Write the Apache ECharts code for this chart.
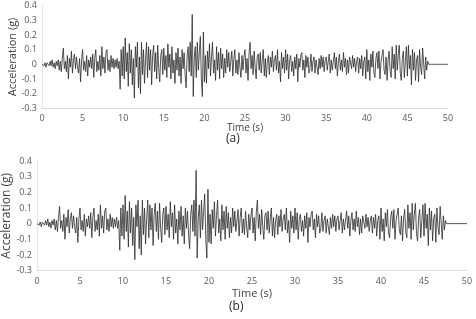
<!DOCTYPE html>
<html>
<head>
<meta charset="utf-8">
<script src="https://cdn.jsdelivr.net/npm/echarts@6/dist/echarts.min.js"></script>
<style>
  html, body { margin: 0; padding: 0; background: #fff; }
  #chart { width: 476px; height: 319px; }
</style>
</head>
<body>
<div id="chart"></div>
<script>
// sampling step of the record (s)
const dt = 0.125

// acceleration (g), one row per second
const accA = [
  0, .01, -.01, .01, -.02, .01, 0, -.01,
  .02, -.01, .03, -.02, .01, -.03, .02, -.01,
  .03, -.04, .02, -.05, .04, .11, -.03, .02,
  -.05, .06, -.10, .04, -.02, .09, -.06, .03,
  .07, -.03, .05, -.02, -.06, .04, -.12, .03,
  .10, -.04, .02, -.05, .06, -.08, .03, -.02,
  .05, -.03, .07, -.09, .04, .10, -.05, .02,
  -.04, .06, -.08, .12, -.03, .05, -.06, .08,
  .10, -.04, .03, -.05, .06, -.02, .04, -.03,
  .03, -.02, .04, -.03, .02, -.17, .10, -.08,
  .12, -.10, .18, -.05, .08, -.15, .14, -.06,
  .10, -.14, .04, -.23, .12, -.02, .15, -.16,
  .05, -.20, .15, -.07, .10, -.13, .03, .15,
  -.09, .12, -.04, .10, -.14, .06, .13, -.05,
  .08, -.10, .13, -.03, -.12, .06, .10, -.07,
  .11, -.04, .06, -.09, .14, -.02, .07, -.10,
  .12, -.06, .03, -.13, .08, -.04, .11, -.08,
  .05, -.13, .10, -.03, .08, -.07, -.16, .06,
  .12, -.05, .15, -.08, .34, -.22, .04, .12,
  -.09, .15, -.04, .08, .19, -.10, -.22, .22,
  -.12, .06, -.13, .09, -.03, .14, -.08, .05,
  .15, -.06, .03, -.11, .12, -.04, .08, -.10,
  .11, -.03, .07, -.09, .04, -.06, .10, -.02,
  .08, -.05, .02, .09, -.08, .04, .10, -.06,
  .03, -.07, .08, -.02, -.09, .06, -.04, .05,
  .10, -.06, .04, -.11, .07, .15, -.03, .06,
  -.07, .09, -.02, -.10, .05, .07, -.04, .08,
  -.06, .03, .10, -.08, .04, -.09, .02, .06,
  -.07, .05, -.02, .09, -.05, .03, .06, -.04,
  .10, -.06, .02, -.12, .08, -.03, .05, -.06,
  .10, -.04, .07, -.10, .03, .06, -.05, .02,
  -.08, .05, -.03, .07, -.12, .04, -.02, .06,
  .08, -.04, .03, -.09, .06, -.02, .05, -.06,
  -.03, .07, -.05, .02, .05, -.06, .03, -.02,
  -.07, .04, -.03, .06, -.02, .05, -.05, .03,
  .05, -.04, .02, .07, -.06, .03, -.04, .02,
  .08, -.03, .05, -.08, .02, .07, -.04, .03,
  -.05, .08, -.02, .04, -.07, .03, -.06, .05,
  .05, -.03, .06, -.02, .04, -.05, .02, .05,
  -.06, .04, -.03, .06, -.08, .02, .05, -.10,
  .10, -.05, .03, -.11, .07, -.02, .09, -.06,
  -.09, .04, .08, -.03, .09, -.10, .02, .06,
  .10, -.04, -.07, .05, -.11, .03, .09, -.05,
  -.09, .12, -.03, .07, -.10, .13, -.04, .06,
  .13, -.06, -.11, .04, .09, -.09, .02, .12,
  -.08, .13, -.03, .06, -.14, .10, -.04, .08,
  -.11, .03, .06, -.12, .10, -.02, -.07, .11,
  .12, -.10, .05, -.04, .02, 0
]
// record (b) traces the same motion
const accB = accA.slice()

// flat tail after the motion ends
const tailTimes = [48, 50]

const xTicks = [0, 5, 10, 15, 20, 25, 30, 35, 40, 45, 50]
const yTicks = [-0.3, -0.2, -0.1, 0, 0.1, 0.2, 0.3, 0.4]
const panelLabels = ['(a)', '(b)']

function toPairs(list) {
  const pairs = list.map((v, i) => [i * dt, v])
  tailTimes.forEach(t => pairs.push([t, 0]))
  return pairs
}

const font = '"Open Sans", "Liberation Sans", sans-serif'

function xAxisOf(idx, gap, nameSize) {
  return {
    type: 'value',
    gridIndex: idx,
    min: xTicks[0],
    max: xTicks[xTicks.length - 1],
    interval: 5,
    name: 'Time (s)',
    nameLocation: 'middle',
    nameGap: gap,
    nameMoveOverlap: false,
    nameTextStyle: { color: '#404040', fontSize: nameSize, fontFamily: font },
    axisLine: { onZero: false, lineStyle: { color: '#d9d9d9', width: 1 } },
    axisTick: { show: false },
    splitLine: { show: false },
    axisLabel: { color: '#595959', fontSize: 9, fontFamily: font, margin: 6 }
  }
}

function yAxisOf(idx, gap, nameSize) {
  return {
    type: 'value',
    gridIndex: idx,
    min: yTicks[0],
    max: yTicks[yTicks.length - 1],
    interval: 0.1,
    name: 'Acceleration (g)',
    nameLocation: 'middle',
    nameGap: gap,
    nameRotate: 90,
    nameMoveOverlap: false,
    nameTextStyle: { color: '#404040', fontSize: nameSize, fontFamily: font },
    axisLine: { show: true, lineStyle: { color: '#e6e6e6', width: 1 } },
    axisTick: { show: false },
    splitLine: { show: false },
    axisLabel: {
      color: '#595959', fontSize: 9, fontFamily: font, margin: 5,
      formatter: v => String(+v.toFixed(1))
    }
  }
}

function seriesOf(idx, list) {
  return {
    type: 'line',
    xAxisIndex: idx,
    yAxisIndex: idx,
    data: toPairs(list),
    showSymbol: false,
    animation: false,
    lineStyle: { color: '#2b2b2b', width: 0.8 }
  }
}

const chart = echarts.init(document.getElementById('chart'))
chart.setOption({
  animation: false,
  grid: [
    { left: 42, right: 28, top: 5.6, height: 102.7, outerBoundsMode: 'none' },
    { left: 37, right: 9, top: 161, height: 109.6, outerBoundsMode: 'none' }
  ],
  xAxis: [xAxisOf(0, 15, 10), xAxisOf(1, 18, 11)],
  yAxis: [yAxisOf(0, 24, 11), yAxisOf(1, 24, 12)],
  series: [seriesOf(0, accA), seriesOf(1, accB)],
  graphic: [
    {
      type: 'text', left: 226, top: 133,
      style: { text: panelLabels[0], fill: '#262626', font: '12px ' + font }
    },
    {
      type: 'text', left: 229, top: 301,
      style: { text: panelLabels[1], fill: '#262626', font: '12px ' + font }
    }
  ]
})
</script>
</body>
</html>
